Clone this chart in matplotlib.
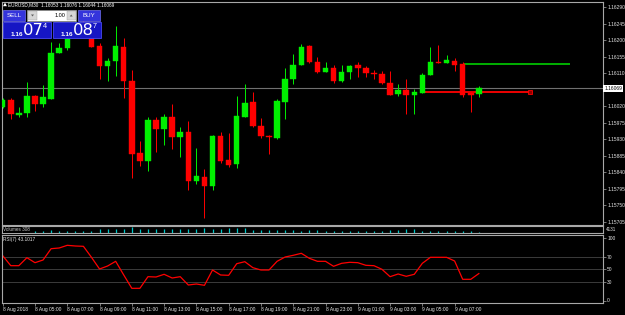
import numpy as np
import matplotlib.pyplot as plt
from matplotlib.patches import Rectangle, Polygon
from matplotlib.transforms import blended_transform_factory

# EURUSD M30, 8 Aug 2018 03:00 -> 9 Aug 2018 08:30 (60 bars)
opens = [1.16018, 1.16037, 1.15996, 1.16002, 1.16049, 1.16026, 1.16041, 1.16165, 1.16178, 1.16210,
         1.16240, 1.16211, 1.16184, 1.16129, 1.16143, 1.16181, 1.16089, 1.15893, 1.15871, 1.15982,
         1.15958, 1.15991, 1.15936, 1.15950, 1.15817, 1.15827, 1.15803, 1.15939, 1.15874, 1.15863,
         1.15991, 1.16032, 1.15966, 1.15940, 1.15934, 1.16032, 1.16094, 1.16132, 1.16184, 1.16140,
         1.16113, 1.16124, 1.16089, 1.16113, 1.16132, 1.16124, 1.16111, 1.16108, 1.16083, 1.16054,
         1.16065, 1.16051, 1.16057, 1.16105, 1.16140, 1.16138, 1.16143, 1.16135, 1.16057, 1.16053]
highs = [1.16043, 1.16043, 1.16018, 1.16086, 1.16051, 1.16078, 1.16195, 1.16192, 1.16208, 1.16255,
         1.16262, 1.16227, 1.16192, 1.16151, 1.16238, 1.16206, 1.16119, 1.15925, 1.15991, 1.15991,
         1.15999, 1.16026, 1.15963, 1.15980, 1.15906, 1.15849, 1.15942, 1.15950, 1.15947, 1.16049,
         1.16080, 1.16060, 1.15988, 1.15942, 1.16041, 1.16124, 1.16162, 1.16189, 1.16187, 1.16154,
         1.16140, 1.16132, 1.16132, 1.16132, 1.16140, 1.16129, 1.16119, 1.16116, 1.16116, 1.16080,
         1.16094, 1.16067, 1.16110, 1.16181, 1.16187, 1.16160, 1.16151, 1.16140, 1.16060, 1.16076]
lows = [1.16015, 1.15985, 1.15991, 1.15991, 1.16007, 1.16018, 1.16041, 1.16165, 1.16173, 1.16208,
        1.16214, 1.16180, 1.16094, 1.16089, 1.16102, 1.16043, 1.15825, 1.15857, 1.15844, 1.15895,
        1.15914, 1.15904, 1.15882, 1.15792, 1.15808, 1.15716, 1.15792, 1.15865, 1.15855, 1.15852,
        1.15991, 1.15963, 1.15934, 1.15890, 1.15931, 1.15985, 1.16080, 1.16132, 1.16138, 1.16110,
        1.16113, 1.16083, 1.16086, 1.16094, 1.16100, 1.16100, 1.16094, 1.16080, 1.16051, 1.16049,
        1.15999, 1.15999, 1.16057, 1.16105, 1.16138, 1.16138, 1.16116, 1.16046, 1.16004, 1.16044]
closes = [1.16037, 1.15999, 1.16002, 1.16049, 1.16026, 1.16046, 1.16165, 1.16178, 1.16203, 1.16240,
          1.16220, 1.16181, 1.16129, 1.16143, 1.16184, 1.16089, 1.15890, 1.15871, 1.15982, 1.15958,
          1.15991, 1.15936, 1.15950, 1.15817, 1.15830, 1.15803, 1.15939, 1.15871, 1.15860, 1.15993,
          1.16029, 1.15966, 1.15939, 1.15937, 1.16035, 1.16094, 1.16132, 1.16181, 1.16140, 1.16113,
          1.16124, 1.16089, 1.16113, 1.16129, 1.16124, 1.16110, 1.16109, 1.16083, 1.16051, 1.16065,
          1.16051, 1.16060, 1.16105, 1.16140, 1.16138, 1.16146, 1.16132, 1.16051, 1.16051, 1.16069]
volumes = [900, 900, 1000, 1100, 1180, 1180, 1770, 1180, 1000, 1180,
           1180, 1180, 2360, 2360, 2560, 2360, 3540, 2360, 2360, 2360,
           2360, 2360, 2360, 2360, 2360, 2950, 2560, 2360, 2950, 3150,
           3150, 1770, 1770, 1770, 1770, 1770, 1770, 1180, 1770, 1770,
           1180, 1180, 1180, 1180, 1180, 1180, 1180, 1180, 1770, 1770,
           2360, 2360, 1180, 1180, 1180, 1180, 1180, 1180, 1180, 308]
rsi = [71.7, 55.7, 55.7, 68.5, 60.5, 64.8, 82.9, 84.0, 88.3, 87.2,
       86.7, 69.1, 50.4, 55.2, 62.7, 40.8, 19.5, 19.5, 38.1, 37.6,
       41.9, 36.0, 38.1, 24.8, 26.4, 24.3, 48.8, 40.8, 40.3, 58.9,
       62.1, 52.5, 48.8, 48.8, 62.7, 69.6, 72.3, 75.5, 67.5, 62.7,
       62.7, 54.7, 59.5, 61.1, 60.5, 56.3, 55.7, 49.9, 38.1, 42.4,
       38.7, 41.9, 59.5, 69.1, 69.1, 69.1, 63.2, 33.9, 33.9, 43.1]

time_ticks = [0, 4, 8, 12, 16, 20, 24, 28, 32, 36, 40, 44, 48, 52, 56]
time_labels = ['8 Aug 2018', '8 Aug 05:00', '8 Aug 07:00', '8 Aug 09:00', '8 Aug 11:00',
               '8 Aug 13:00', '8 Aug 15:00', '8 Aug 17:00', '8 Aug 19:00', '8 Aug 21:00',
               '8 Aug 23:00', '9 Aug 01:00', '9 Aug 03:00', '9 Aug 05:00', '9 Aug 07:00']
price_ticks = [1.16290, 1.16245, 1.16200, 1.16155, 1.16110, 1.16065, 1.16020,
               1.15975, 1.15930, 1.15885, 1.15840, 1.15795, 1.15750, 1.15705]
rsi_ticks = [0, 30, 50, 70, 100]
rsi_levels = [30, 50, 70]

# trade lines: (price, first bar, last bar)
tp_line = (1.16134, 57.0, 70.3)
order_line = (1.16058, 51.8, 65.3)

W, H = 625, 315
BG = 'black'
FRAME = '#a8a8a8'
TXT = '#e6e6e6'
FONT = 'Liberation Sans'


def box(x0, y0, x1, y1):
    return [x0 / W, 1 - y1 / H, (x1 - x0) / W, (y1 - y0) / H]


fig = plt.figure(figsize=(6.25, 3.15), dpi=100, facecolor=BG)
xlim = ((2 - 2.7) / 8.07, (603 - 2.7) / 8.07)

ax = fig.add_axes(box(2, 2, 603, 225), facecolor=BG)
axv = fig.add_axes(box(2, 226, 603, 233), facecolor=BG)
axr = fig.add_axes(box(2, 235, 603, 303), facecolor=BG)
for a in (ax, axv, axr):
    a.set_xlim(*xlim)
    for s in a.spines.values():
        s.set_color(FRAME)
        s.set_linewidth(0.8)
    a.tick_params(axis='both', colors=FRAME, labelcolor=TXT, labelsize=3.5,
                  length=2, width=0.5, pad=1)
    a.yaxis.tick_right()
    a.set_xticks([])

# --- candles
x = np.arange(len(opens))
o, h, l, c = map(np.array, (opens, highs, lows, closes))
col = np.where(c >= o, '#00f000', '#ff0000')
ax.axhline(closes[-1], color='#707070', lw=0.8, zorder=1)
ax.hlines(tp_line[0], tp_line[1], tp_line[2], color='#00e000', lw=1.1, zorder=2)
ax.hlines(order_line[0], order_line[1], order_line[2], color='#ff0000', lw=1.3, zorder=2)
ax.plot([order_line[2]], [order_line[0]], 's', ms=2.4, mfc='#900000', mec='#ff0000',
        mew=0.6, zorder=2)
ax.vlines(x, l, h, colors=col, lw=0.7, zorder=3)
body = np.maximum(np.abs(c - o), 0.000012)
ax.bar(x, body, bottom=np.minimum(o, c), width=0.68, color=col, edgecolor=col,
       lw=0.3, zorder=4)
ax.set_ylim(1.16290 - 218 * 0.00002721, 1.16290 + 5 * 0.00002721)
ax.set_yticks(price_ticks)
# the label nearest the last price sits under the price box, as in the terminal
ax.set_yticklabels(['' if abs(p - closes[-1]) < 0.0001 else '%.5f' % p
                    for p in price_ticks], family=FONT)
tr = blended_transform_factory(ax.transAxes, ax.transData)
ax.text(1.002, closes[-1], '%.5f' % closes[-1], transform=tr, fontsize=3.5,
        family=FONT, color='black', va='center', ha='left', zorder=6,
        bbox=dict(facecolor='white', edgecolor='none', pad=0.8))

# --- volumes
axv.vlines(x, 0, volumes, color='#00c8c8', lw=0.9)
axv.set_ylim(0, 4131)
axv.set_yticks([])
axv.text(1.004, 0.5, '4131', transform=axv.transAxes, fontsize=3.3, family=FONT,
         color=TXT, va='center')
axv.text(0.002, 0.45, 'Volumes 308', transform=axv.transAxes, fontsize=3.3,
         family=FONT, color='#c8c8c8', va='center',
         bbox=dict(facecolor=BG, edgecolor='none', pad=0.3))

# --- RSI
for lv in rsi_levels:
    axr.axhline(lv, color='#8a8a8a', lw=0.6, ls=(0, (1.2, 1.2)))
axr.plot(x, rsi, color='#ff0000', lw=0.9)
axr.set_ylim(-4, 104.8)
axr.set_yticks(rsi_ticks)
axr.set_yticklabels([str(t) for t in rsi_ticks], family=FONT)
axr.set_xticks(time_ticks)
axr.set_xticklabels(time_labels, family=FONT)
for lab in axr.get_xticklabels():
    lab.set_ha('left')
axr.text(0.002, 0.93, 'RSI(7) 43.1017', transform=axr.transAxes, fontsize=3.4,
         family=FONT, color=TXT, va='center')

# --- one-click trading panel and title (pixel coordinates)
ui = fig.add_axes([0, 0, 1, 1], facecolor='none')
ui.set_xlim(0, W)
ui.set_ylim(H, 0)
ui.axis('off')
ui.set_zorder(10)

ui.add_patch(Polygon([(3, 6.2), (5, 2.6), (7, 6.2)], closed=True, fc='white', ec='none'))
ui.text(8.5, 4.6, 'EURUSD,M30  1.16053 1.16076 1.16044 1.16069', fontsize=3.45,
        family=FONT, color='white', va='center')

blue_btn = '#3434dc'
blue_box = '#1616c4'
ui.add_patch(Rectangle((3.3, 10), 22, 11, fc=blue_btn, ec='#7070f0', lw=0.5))
ui.text(14.3, 15.6, 'SELL', fontsize=4.4, family=FONT, color='white', ha='center', va='center')
ui.add_patch(Rectangle((77.5, 10), 22.5, 11, fc=blue_btn, ec='#7070f0', lw=0.5))
ui.text(88.8, 15.6, 'BUY', fontsize=4.4, family=FONT, color='white', ha='center', va='center')
ui.add_patch(Rectangle((27, 9.5), 49, 11.5, fc='white', ec='#8c8c8c', lw=0.5))
ui.add_patch(Rectangle((28, 10.5), 9, 9.5, fc='#d6d6d6', ec='#a0a0a0', lw=0.3))
ui.add_patch(Rectangle((67, 10.5), 8.5, 9.5, fc='#d6d6d6', ec='#a0a0a0', lw=0.3))
ui.add_patch(Polygon([(31, 14.5), (34, 14.5), (32.5, 16.5)], closed=True, fc='#606060', ec='none'))
ui.add_patch(Polygon([(69.7, 16.5), (72.7, 16.5), (71.2, 14.5)], closed=True, fc='#606060', ec='none'))
ui.text(65, 15.6, '1.00', fontsize=4.0, family=FONT, color='black', ha='right', va='center')

for x0, big, sup in ((2.7, '07', '4'), (52.7, '08', '7')):
    ui.add_patch(Rectangle((x0, 21.5), 48.6, 16.5, fc=blue_box, ec='#4848f0', lw=0.6))
    ui.text(x0 + 7.6, 35.6, '1.16', fontsize=4.6, family=FONT, weight='bold',
            color='white', va='baseline')
    ui.text(x0 + 20.6, 35.4, big, fontsize=11.8, family='DejaVu Sans', color='white',
            va='baseline')
    ui.text(x0 + 40.2, 28.2, sup, fontsize=5.2, family=FONT, color='white', va='baseline')

fig.savefig('out.png', dpi=100, facecolor=BG)
